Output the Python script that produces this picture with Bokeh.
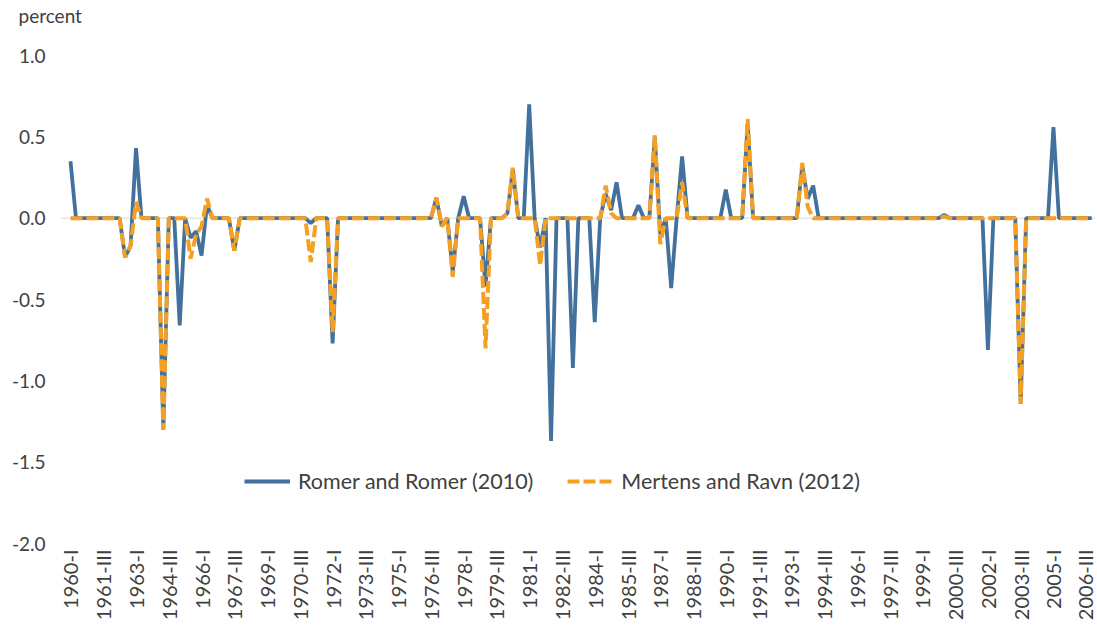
import math
from bokeh.plotting import figure
from bokeh.models import FixedTicker, Span, Legend, LegendItem, PrintfTickFormatter, Title
from bokeh.embed import file_html
from bokeh.resources import INLINE

# quarterly categories 1960-I .. 2006-IV
roman = ["I", "II", "III", "IV"]
years = list(range(1960, 2007))
quarters = [f"{y}-{roman[q]}" for y in years for q in range(4)]
tick_idx = list(range(0, len(quarters), 6))

romer = [
    0.35, 0, 0, 0, 0, 0, 0, 0,              # 1960-61
    0, 0, -0.24, -0.17, 0.43, 0, 0, 0,      # 1962-63
    0, -1.30, 0, 0, -0.66, 0, -0.12, -0.08, # 1964-65
    -0.23, 0.08, 0, 0, 0, 0, -0.20, 0,      # 1966-67
    0, 0, 0, 0, 0, 0, 0, 0,                 # 1968-69
    0, 0, 0, 0, -0.03, 0, 0, 0,             # 1970-71
    -0.77, 0, 0, 0, 0, 0, 0, 0,             # 1972-73
    0, 0, 0, 0, 0, 0, 0, 0,                 # 1974-75
    0, 0, 0, 0.125, -0.05, 0, -0.33, 0,     # 1976-77
    0.135, 0, 0, 0, -0.42, 0, 0, 0,         # 1978-79
    0.03, 0.30, 0, 0, 0.70, 0, -0.18, 0,    # 1980-81
    -1.37, 0, 0, 0, -0.92, 0, 0, 0,         # 1982-83
    -0.64, 0, 0.15, 0.05, 0.22, 0, 0, 0,    # 1984-85
    0.08, 0, 0, 0.50, -0.10, 0, -0.43, 0,   # 1986-87
    0.38, 0, 0, 0, 0, 0, 0, 0,              # 1988-89
    0.175, 0, 0, 0, 0.58, 0, 0, 0,          # 1990-91
    0, 0, 0, 0, 0, 0, 0.32, 0.12,           # 1992-93
    0.20, 0, 0, 0, 0, 0, 0, 0,              # 1994-95
    0, 0, 0, 0, 0, 0, 0, 0,                 # 1996-97
    0, 0, 0, 0, 0, 0, 0, 0,                 # 1998-99
    0.02, 0, 0, 0, 0, 0, 0, 0,              # 2000-01
    -0.81, 0, 0, 0, 0, 0, -1.14, 0,         # 2002-03
    0, 0, 0, 0, 0.56, 0, 0, 0,              # 2004-05
    0, 0, 0, 0,                             # 2006
]

mertens = [
    0, 0, 0, 0, 0, 0, 0, 0,                 # 1960-61
    0, 0, -0.24, -0.17, 0.10, 0, 0, 0,      # 1962-63
    0, -1.30, 0, 0, 0, 0, -0.25, -0.10,     # 1964-65
    -0.05, 0.12, 0, 0, 0, 0, -0.20, 0,      # 1966-67
    0, 0, 0, 0, 0, 0, 0, 0,                 # 1968-69
    0, 0, 0, 0, -0.27, 0, 0, 0,             # 1970-71
    -0.70, 0, 0, 0, 0, 0, 0, 0,             # 1972-73
    0, 0, 0, 0, 0, 0, 0, 0,                 # 1974-75
    0, 0, 0, 0.125, -0.05, 0, -0.36, 0,     # 1976-77
    0, 0, 0, 0, -0.80, 0, 0, 0,             # 1978-79
    0.03, 0.31, 0, 0, 0, 0, -0.29, 0,       # 1980-81
    0, 0, 0, 0, 0, 0, 0, 0,                 # 1982-83
    0, 0, 0.20, 0.03, 0, 0, 0, 0,           # 1984-85
    0, 0, 0, 0.51, -0.16, 0, 0, 0,          # 1986-87
    0.22, 0, 0, 0, 0, 0, 0, 0,              # 1988-89
    0, 0, 0, 0, 0.61, 0, 0, 0,              # 1990-91
    0, 0, 0, 0, 0, 0, 0.34, 0.07,           # 1992-93
    0, 0, 0, 0, 0, 0, 0, 0,                 # 1994-95
    0, 0, 0, 0, 0, 0, 0, 0,                 # 1996-97
    0, 0, 0, 0, 0, 0, 0, 0,                 # 1998-99
    0.01, 0, 0, 0, 0, 0, 0, 0,              # 2000-01
    0, 0, 0, 0, 0, 0, -1.14, 0,             # 2002-03
    0, 0, 0, 0, 0, 0, 0, 0,                 # 2004-05
    0, 0, 0, 0,                             # 2006
]

y_ticks = [-2.0, -1.5, -1.0, -0.5, 0.0, 0.5, 1.0]
series_names = ["Romer and Romer (2010)", "Mertens and Ravn (2012)"]
unit_label = "percent"

FONT = "Lato"
TXT = "#404040"
BLUE = "#41719C"
ORANGE = "#F5A023"

x = list(range(len(quarters)))

p = figure(width=1096, height=632, x_range=(-1.83, 187.7), y_range=(-2, 1),
           output_backend="svg", toolbar_location=None,
           min_border_left=60, min_border_right=1, min_border_top=55, min_border_bottom=89)
p.outline_line_color = None
p.xgrid.grid_line_color = None
p.ygrid.grid_line_color = None

# spacer panel (closest to frame), then the unit label above it
spacer = Title(text=" ", text_font_size="1px", standoff=26)
p.add_layout(spacer, "above")
t = Title(text=unit_label, align="left", offset=-42, standoff=0,
          text_font=FONT, text_font_size="19px", text_color=TXT, text_font_style="normal")
p.add_layout(t, "above")

p.add_layout(Span(location=0, dimension="width", line_color="#d9d9d9", line_width=1, level="underlay"))

r1 = p.line(x, romer, line_color=BLUE, line_width=3.8)
r2 = p.line(x, mertens, line_color=ORANGE, line_width=4, line_dash="12 4")

# axes
p.yaxis.ticker = FixedTicker(ticks=y_ticks)
p.yaxis.formatter = PrintfTickFormatter(format="%.1f")
p.yaxis.axis_line_color = None
p.yaxis.major_tick_line_color = None
p.yaxis.minor_tick_line_color = None
p.yaxis.major_label_standoff = 9
p.yaxis.major_label_text_font = FONT
p.yaxis.major_label_text_font_size = "19px"
p.yaxis.major_label_text_color = TXT

p.xaxis.ticker = FixedTicker(ticks=tick_idx)
p.xaxis.major_label_overrides = {i: quarters[i] for i in tick_idx}
p.xaxis.major_label_orientation = math.pi / 2
p.xaxis.axis_line_color = None
p.xaxis.major_tick_line_color = None
p.xaxis.minor_tick_line_color = None
p.xaxis.major_label_standoff = 0
p.xaxis.major_label_text_font = FONT
p.xaxis.major_label_text_font_size = "20px"
p.xaxis.major_label_text_color = TXT

legend = Legend(items=[LegendItem(label=series_names[0], renderers=[r1]),
                       LegendItem(label=series_names[1], renderers=[r2])],
                location=(184, 49), orientation="horizontal",
                glyph_width=46, glyph_height=20, label_height=20, label_standoff=8, spacing=34,
                padding=0, margin=0, border_line_color=None, background_fill_alpha=0,
                label_text_font=FONT, label_text_font_size="21.5px", label_text_color=TXT)
p.add_layout(legend)

open("out.html", "w").write(file_html(p, INLINE))
